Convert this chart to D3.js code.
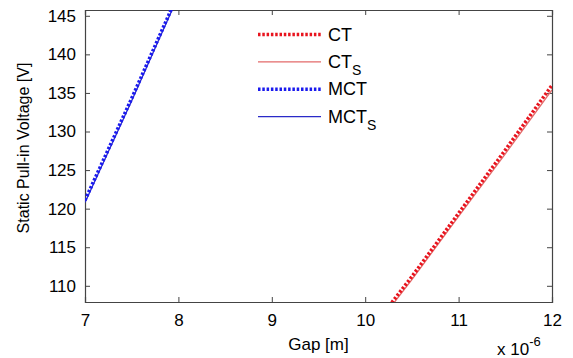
<!DOCTYPE html>
<html>
<head>
<meta charset="utf-8">
<script src="https://cdn.jsdelivr.net/npm/d3@7"></script>
<style>
  body { margin: 0; background: #fff; }
  text { font-family: "Liberation Sans", Arial, sans-serif; fill: #000; }
</style>
</head>
<body>
<script>
// gap values in micrometres (axis shown as x 10^-6 m)
var gapCT = [10.2, 10.5, 11, 11.5, 12];
var voltCT = [106.5, 111.2, 119.4, 127.6, 136.0];
var voltCTs = [106.1, 110.8, 119.0, 127.1, 135.4];

var gapMCT = [7, 7.5, 8];
var voltMCT = [121.1, 134.3, 147.9];
var voltMCTs = [120.8, 134.0, 147.6];

var xTicks = [7, 8, 9, 10, 11, 12];
var yTicks = [110, 115, 120, 125, 130, 135, 140, 145];

var legendNames = ['CT', 'CT', 'MCT', 'MCT'];

var width = 573, height = 358;
var margin = {top: 10, right: 21, bottom: 56, left: 85};

var svg = d3.select('body').append('svg')
  .attr('width', width).attr('height', height);

var x = d3.scaleLinear().domain([7, 12]).range([margin.left, width - margin.right]);
var y = d3.scaleLinear().domain([107.9, 145.75]).range([height - margin.bottom, margin.top]);

svg.append('clipPath').attr('id', 'clip').append('rect')
  .attr('x', margin.left).attr('y', margin.top)
  .attr('width', width - margin.left - margin.right)
  .attr('height', height - margin.top - margin.bottom);

var axisColor = '#444';

// axes with inward ticks, mirrored on top and right
var bottomAxis = svg.append('g')
  .attr('transform', 'translate(0,' + (height - margin.bottom) + ')')
  .call(d3.axisBottom(x).tickValues(xTicks).tickSize(-5).tickPadding(12).tickFormat(d3.format('d')));
var topAxis = svg.append('g')
  .attr('transform', 'translate(0,' + margin.top + ')')
  .call(d3.axisTop(x).tickValues(xTicks).tickSize(-5).tickFormat(''));
var leftAxis = svg.append('g')
  .attr('transform', 'translate(' + margin.left + ',0)')
  .call(d3.axisLeft(y).tickValues(yTicks).tickSize(-5).tickPadding(9).tickFormat(d3.format('d')));
var rightAxis = svg.append('g')
  .attr('transform', 'translate(' + (width - margin.right) + ',0)')
  .call(d3.axisRight(y).tickValues(yTicks).tickSize(-5).tickFormat(''));

[bottomAxis, topAxis, leftAxis, rightAxis].forEach(function(a) {
  a.select('.domain').attr('stroke', axisColor).attr('stroke-width', 1.2);
  a.selectAll('.tick line').attr('stroke', axisColor);
  a.selectAll('.tick text').style('font-size', '17px').attr('fill', '#000');
});

var line = d3.line().x(function(d) { return x(d[0]); }).y(function(d) { return y(d[1]); });

var plot = svg.append('g').attr('clip-path', 'url(#clip)');

var series = [
  {g: gapCT, v: voltCTs, color: '#e36a6a', width: 1.3, dash: null},
  {g: gapCT, v: voltCT, color: '#e8141e', width: 3.5, dash: '2.5,1.8'},
  {g: gapMCT, v: voltMCTs, color: '#2a2ac8', width: 1.3, dash: null},
  {g: gapMCT, v: voltMCT, color: '#1a1aee', width: 3.5, dash: '2.5,1.8'}
];

series.forEach(function(s) {
  plot.append('path')
    .datum(d3.zip(s.g, s.v))
    .attr('d', line)
    .attr('fill', 'none')
    .attr('stroke', s.color)
    .attr('stroke-width', s.width)
    .attr('stroke-dasharray', s.dash);
});

// legend
var legendStyles = [
  {color: '#e8141e', width: 3.5, dash: '2.5,1.8', sub: false},
  {color: '#e36a6a', width: 1.3, dash: null, sub: true},
  {color: '#1a1aee', width: 3.5, dash: '2.5,1.8', sub: false},
  {color: '#2a2ac8', width: 1.3, dash: null, sub: true}
];
var legend = svg.append('g');
legendNames.forEach(function(name, i) {
  var ly = 34.5 + i * 27.4;
  var st = legendStyles[i];
  legend.append('line')
    .attr('x1', 258).attr('x2', 321).attr('y1', ly).attr('y2', ly)
    .attr('stroke', st.color).attr('stroke-width', st.width)
    .attr('stroke-dasharray', st.dash);
  var t = legend.append('text').attr('x', 328).attr('y', ly + 6).style('font-size', '18px').text(name);
  if (st.sub) {
    t.append('tspan').attr('dy', 7).style('font-size', '14px').text('S');
  }
});

// axis labels
svg.append('text')
  .attr('x', (margin.left + width - margin.right) / 2).attr('y', 350)
  .attr('text-anchor', 'middle').style('font-size', '17px').text('Gap [m]');

svg.append('text')
  .attr('transform', 'translate(29,148) rotate(-90)')
  .attr('text-anchor', 'middle').style('font-size', '16px').text('Static Pull-in Voltage [V]');

var exp = svg.append('text').attr('x', 497).attr('y', 355).style('font-size', '17px');
exp.append('tspan').text('x 10');
exp.append('tspan').attr('dy', -9).style('font-size', '13px').text('-6');
</script>
</body>
</html>
